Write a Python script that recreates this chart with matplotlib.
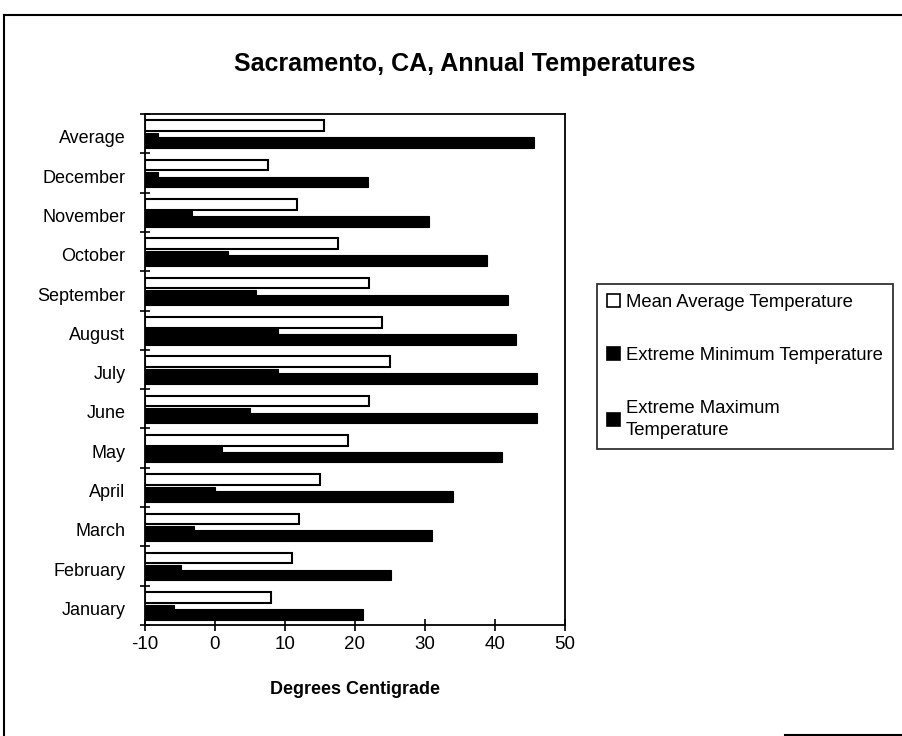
import matplotlib
matplotlib.use("Agg")
import matplotlib.pyplot as plt
import numpy as np
from matplotlib import ticker
from matplotlib.lines import Line2D

plt.rcParams['font.family'] = ['Liberation Sans', 'DejaVu Sans']
plt.rcParams['axes.unicode_minus'] = False

categories = ["January", "February", "March", "April", "May", "June", "July",
              "August", "September", "October", "November", "December", "Average"]
mean_temp = [8, 11, 12, 15, 19, 22, 25, 23.8, 22, 17.6, 11.7, 7.6, 15.6]
min_temp = [-5.8, -4.8, -3, 0, 1, 5, 9, 9, 5.8, 1.8, -3.3, -8.2, -8.2]
max_temp = [21.2, 25.2, 31, 34, 41, 46, 46, 43, 41.8, 38.8, 30.6, 21.8, 45.6]
series_names = ["Mean Average Temperature", "Extreme Minimum Temperature",
                "Extreme Maximum\nTemperature"]

BASE = -10  # bars grow from the axis crossing


def main():
    fig = plt.figure(figsize=(9.03, 7.36), dpi=100)
    ax = fig.add_axes([145 / 903, 1 - 625 / 736, 420 / 903, 511 / 736])

    y = np.arange(len(categories))
    h = 0.27
    b1 = ax.barh(y + 0.2, np.array(mean_temp) - BASE, left=BASE, height=h,
                 color="white", edgecolor="black", linewidth=1.5, zorder=2)
    b2 = ax.barh(y - 0.115, np.array(min_temp) - BASE, left=BASE, height=h,
                 color="black", edgecolor="black", linewidth=0.8, zorder=3)
    b3 = ax.barh(y - 0.23, np.array(max_temp) - BASE, left=BASE, height=h,
                 color="black", edgecolor="black", linewidth=0.8, zorder=4)

    ax.set_xlim(-10, 50)
    ax.set_ylim(-0.5, len(categories) - 0.5)
    ax.xaxis.set_major_locator(ticker.MultipleLocator(10))
    ax.set_yticks(y - 0.08)
    ax.set_yticklabels(categories)
    ax.yaxis.set_minor_locator(ticker.FixedLocator(np.arange(-0.5, len(categories), 1.0)))

    ax.tick_params(axis="x", direction="inout", length=8, width=1.2, pad=4, labelsize=13.5)
    ax.tick_params(axis="y", which="major", length=0, pad=14, labelsize=13)
    ax.tick_params(axis="y", which="minor", direction="inout", length=7, width=1.2)
    for s in ax.spines.values():
        s.set_linewidth(1.3)

    ax.set_xlabel("Degrees Centigrade", fontsize=13, fontweight="bold", labelpad=20)
    fig.text(0.515, 1 - 64 / 736, "Sacramento, CA, Annual Temperatures",
             ha="center", va="center", fontsize=18, fontweight="bold")

    leg = fig.legend([b1, b2, b3], series_names, loc="upper left",
                     bbox_to_anchor=(597 / 903, 1 - 284 / 736), fontsize=13.3,
                     frameon=True, fancybox=False, handlelength=0.7, handleheight=0.7,
                     handletextpad=0.3, labelspacing=1.95, borderpad=0.55,
                     borderaxespad=0)
    leg.get_frame().set_edgecolor("black")
    leg.get_frame().set_linewidth(1.3)
    for p in leg.legend_handles:
        p.set_linewidth(1.2)
    for t in leg.get_texts():
        t.set_linespacing(1.35)

    # page frame: left and top edges, and the bit of bottom edge seen in the scan
    fig.add_artist(Line2D([4.5 / 903, 4.5 / 903], [1 / 736, 1 - 15 / 736],
                          transform=fig.transFigure, color="black", linewidth=1.5))
    fig.add_artist(Line2D([4.5 / 903, 1.0], [1 - 15 / 736, 1 - 15 / 736],
                          transform=fig.transFigure, color="black", linewidth=1.5))
    fig.add_artist(Line2D([785 / 903, 1.0], [1.5 / 736, 1.5 / 736],
                          transform=fig.transFigure, color="black", linewidth=1.5))

    fig.savefig("out.png", dpi=100)


if __name__ == '__main__':
    main()
